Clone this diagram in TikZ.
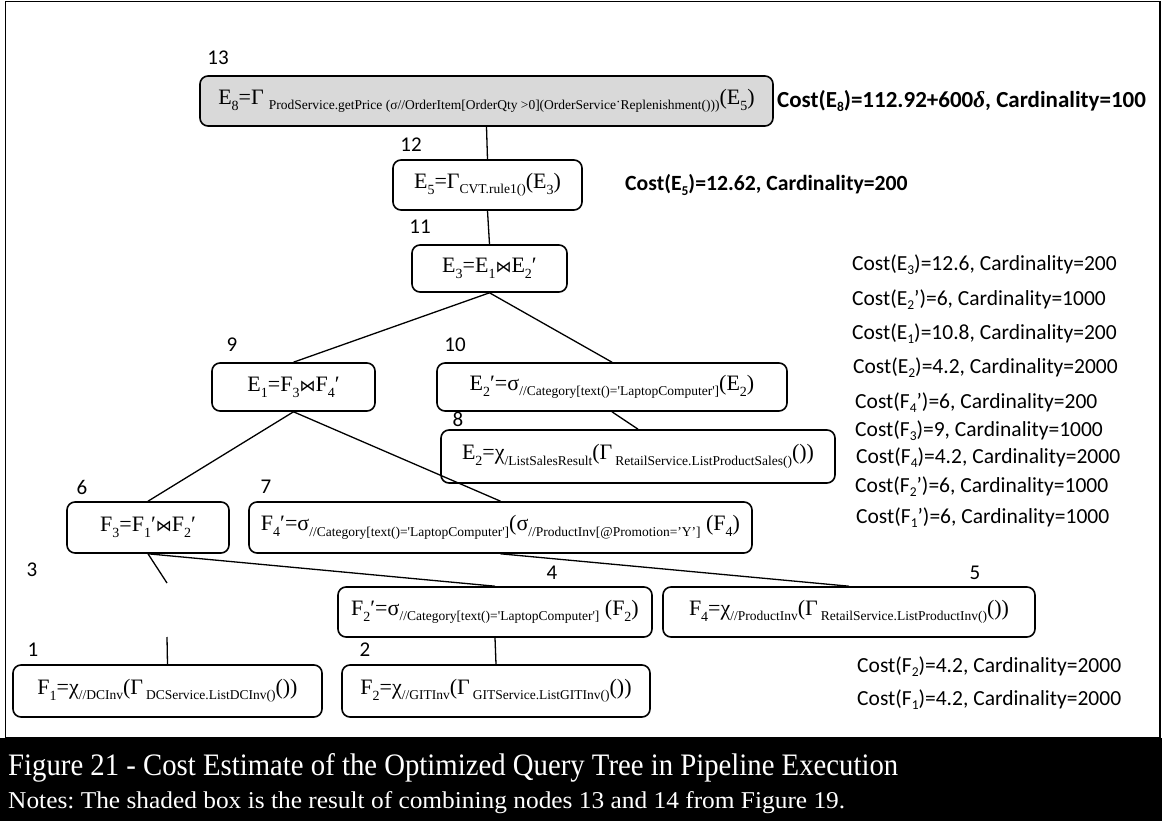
\documentclass[tikz,border=0pt]{standalone}
\usepackage{fontspec}
\setmainfont{Liberation Serif}
\newfontfamily\labfont{Carlito}
\newfontfamily\bowfont{DejaVu Sans}
\newfontfamily\grkfont{Liberation Serif}
\definecolor{shade}{RGB}{217,217,217}
% lowered operator subscript, index digit, join symbol, label subscript
\newcommand\lo[1]{\raisebox{-0.55ex}{\fontsize{13.5}{14}\selectfont #1}}
\newcommand\ix[1]{\raisebox{-0.6ex}{\fontsize{14}{14}\selectfont #1}}
\newcommand\bow{{\bowfont\fontsize{16}{16}\selectfont ⋈}}
\newcommand\lsub[1]{\raisebox{-0.4ex}{\fontsize{13.5}{14}\selectfont #1}}
\newcommand\sq{\textquotesingle}
\newcommand\hdot{\raisebox{0.55ex}{·}}
\begin{document}
\frenchspacing
\begin{tikzpicture}[x=1pt,y=-1pt,
  box/.style={draw, line width=1.6pt, rounded corners=8pt, inner sep=0pt,
    align=center, font=\fontsize{22}{24}\selectfont},
  num/.style={inner sep=0pt, font=\labfont\fontsize{21}{22}\selectfont},
  cost/.style={anchor=west, inner sep=0pt, font=\labfont\fontsize{21.5}{23}\selectfont},
  boldcost/.style={cost, font=\labfont\bfseries\fontsize{21.7}{23}\selectfont},
  link/.style={line width=1.3pt},
  caption/.style={anchor=base west, inner sep=0pt, text=white}]
\useasboundingbox (0,0) rectangle (1162,821);

% outer frame and caption band
\draw[line width=1.2pt] (5.5,1.5) rectangle (1160,738);
\fill[black] (0,738) rectangle (1162,821);
\node[caption] (cap1) at (8,775) {\resizebox{890pt}{22pt}{Figure 21 - Cost Estimate of the Optimized Query Tree in Pipeline Execution}};
\node[caption] (cap2) at (8,808) {\resizebox{837pt}{17pt}{Notes: The shaded box is the result of combining nodes 13 and 14 from Figure 19.}};

% operator boxes
\node[box, fill=shade, minimum width=573pt, minimum height=50pt] (b13) at (486.5,101)
  {E\ix{8}=Γ\hspace{5pt}\lo{ProdService.getPrice (σ//OrderItem[OrderQty >0](OrderService\hdot Replenishment()))}(E\ix{5})};
\node[box, minimum width=189pt, minimum height=50pt] (b12) at (487.5,185)
  {E\ix{5}=Γ\lo{CVT.rule1()}(E\ix{3})};
\node[box, minimum width=155pt, minimum height=47pt] (b11) at (489.5,268.5)
  {E\ix{3}=E\ix{1}\bow E\ix{2}′};
\node[box, minimum width=163pt, minimum height=48pt] (b9) at (293.5,387)
  {E\ix{1}=F\ix{3}\bow F\ix{4}′};
\node[box, minimum width=350pt, minimum height=48pt] (b10) at (612,387)
  {E\ix{2}′=σ\lo{//Category[text()=\sq LaptopComputer\sq]}(E\ix{2})};
\node[box, minimum width=394pt, minimum height=53pt] (b8) at (638,456.5)
  {E\ix{2}=χ\lo{/ListSalesResult}(Γ\hspace{3pt}\lo{RetailService.ListProductSales()}())};
\node[box, minimum width=162pt, minimum height=51pt] (b6) at (148,527.5)
  {F\ix{3}=F\ix{1}′\bow F\ix{2}′};
\node[box, minimum width=503pt, minimum height=51pt] (b7) at (500.5,527.5)
  {F\ix{4}′=σ\lo{//Category[text()=\sq LaptopComputer\sq]}(σ\lo{//ProductInv[@Promotion=’Y’]} (F\ix{4})};
\node[box, minimum width=314pt, minimum height=50pt] (b4) at (495,612)
  {F\ix{2}′=σ\lo{//Category[text()=\sq LaptopComputer\sq]} (F\ix{2})};
\node[box, minimum width=372pt, minimum height=50pt] (b5) at (849,612)
  {F\ix{4}=χ\lo{//ProductInv}(Γ\hspace{3pt}\lo{RetailService.ListProductInv()}())};
\node[box, minimum width=309pt, minimum height=52pt] (b1) at (167.5,691)
  {F\ix{1}=χ\lo{//DCInv}(Γ\hspace{3pt}\lo{DCService.ListDCInv()}())};
\node[box, minimum width=308pt, minimum height=52pt] (b2) at (496,691)
  {F\ix{2}=χ\lo{//GITInv}(Γ\hspace{3pt}\lo{GITService.ListGITInv()}())};

% node 3 has no box: only the ends of its two links are drawn
\coordinate (n3top) at (167,583);
\coordinate (n3bot) at (167,637);

% step numbers
\node[num] (l13) at (218,58) {13};
\node[num] (l12) at (411,145) {12};
\node[num] (l11) at (420,227) {11};
\node[num] (l9) at (232,345) {9};
\node[num] (l10) at (455,345) {10};
\node[num] (l8) at (458,419) {8};
\node[num] (l6) at (82,487) {6};
\node[num] (l7) at (266,487) {7};
\node[num] (l3) at (32,570) {3};
\node[num] (l4) at (552,573) {4};
\node[num] (l5) at (975,573) {5};
\node[num] (l1) at (33,650) {1};
\node[num] (l2) at (365,650) {2};

% links of the tree
\draw[link] (b13.south) -- (b12.north);
\draw[link] (b12.south) -- (b11.north);
\draw[link] (b11.south) -- (b9.north);
\draw[link] (b11.south) -- (b10.north);
\draw[link] (b10.south) -- (b8.north);
\draw[link] (b9.south) -- (b6.north);
\draw[link] (b9.south) -- (b7.north);
\draw[link] (b6.south) -- (b4.north);
\draw[link] (b7.south) -- (b5.north);
\draw[link] (b6.south) -- (n3top);
\draw[link] (n3bot) -- (b1.north);
\draw[link] (b4.south) -- (b2.north);

% cost estimates
\node[boldcost, font=\labfont\bfseries\fontsize{23}{24}\selectfont] (c8) at (777,101) {Cost(E\lsub{8})=112.92+600{\grkfont\itshape δ}, Cardinality=100};
\node[boldcost] (c5) at (625,185) {Cost(E\lsub{5})=12.62, Cardinality=200};
\node[cost] (c3) at (852,265) {Cost(E\lsub{3})=12.6, Cardinality=200};
\node[cost] (c2p) at (852,300) {Cost(E\lsub{2}’)=6, Cardinality=1000};
\node[cost] (c1) at (852,334) {Cost(E\lsub{1})=10.8, Cardinality=200};
\node[cost] (c2) at (853,368) {Cost(E\lsub{2})=4.2, Cardinality=2000};
\node[cost] (cf4p) at (855,403) {Cost(F\lsub{4}’)=6, Cardinality=200};
\node[cost] (cf3) at (855,431) {Cost(F\lsub{3})=9, Cardinality=1000};
\node[cost] (cf4) at (856,458) {Cost(F\lsub{4})=4.2, Cardinality=2000};
\node[cost] (cf2p) at (855,487) {Cost(F\lsub{2}’)=6, Cardinality=1000};
\node[cost] (cf1p) at (856,518) {Cost(F\lsub{1}’)=6, Cardinality=1000};
\node[cost] (cf2) at (857,667) {Cost(F\lsub{2})=4.2, Cardinality=2000};
\node[cost] (cf1) at (857,700) {Cost(F\lsub{1})=4.2, Cardinality=2000};
\end{tikzpicture}
\end{document}
